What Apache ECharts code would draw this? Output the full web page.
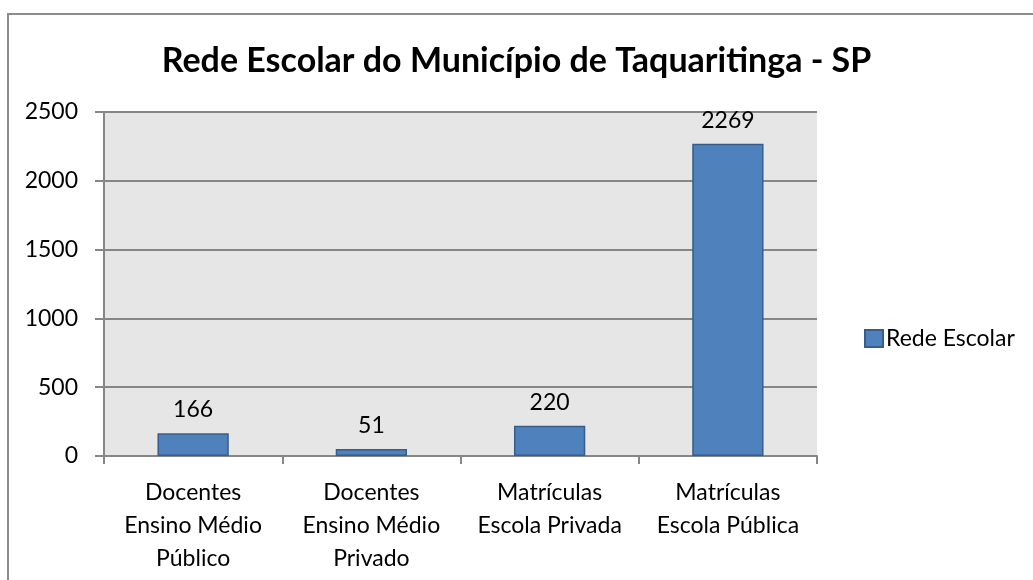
<!DOCTYPE html>
<html>
<head>
<meta charset="utf-8">
<script src="https://cdn.jsdelivr.net/npm/echarts@6/dist/echarts.min.js"></script>
<style>
  html, body { margin: 0; padding: 0; background: #fff; }
  #frame {
    position: absolute; left: 7px; top: 13px;
    width: 1100px; height: 700px;
    border: 2px solid #8c8c8c; box-sizing: border-box;
  }
  #chart { position: absolute; left: 0; top: 0; width: 1033px; height: 580px; }
</style>
</head>
<body>
<div id="frame"></div>
<div id="chart"></div>
<script>
// dados do gráfico
const categorias = [
  'Docentes\nEnsino Médio\nPúblico',
  'Docentes\nEnsino Médio\nPrivado',
  'Matrículas\nEscola Privada',
  'Matrículas\nEscola Pública'
];
const redeEscolar = [166, 51, 220, 2269];
const yTicks = [0, 500, 1000, 1500, 2000, 2500];

const fonte = 'Lato, "Open Sans", sans-serif';
const chart = echarts.init(document.getElementById('chart'));

const option = {
  backgroundColor: 'transparent',
  animation: false,
  title: {
    text: 'Rede Escolar do Município de Taquaritinga - SP',
    left: 'center',
    top: 39,
    textStyle: { fontFamily: fonte, fontSize: 34, fontWeight: 'bold', color: '#000' }
  },
  legend: {
    data: ['Rede Escolar'],
    orient: 'vertical',
    icon: 'rect',
    left: 859,
    top: 322,
    itemWidth: 18,
    itemHeight: 17,
    itemGap: 4,
    textStyle: { fontFamily: fonte, fontSize: 23, color: '#000', padding: [0, 0, 0, -2] }
  },
  grid: {
    left: 104,
    right: 216,
    top: 112,
    bottom: 124,
    show: true,
    backgroundColor: '#e6e6e6',
    borderWidth: 0
  },
  xAxis: {
    type: 'category',
    data: categorias,
    axisLine: { lineStyle: { color: '#868686', width: 2 } },
    axisTick: { show: true, length: 8, lineStyle: { color: '#868686', width: 2 } },
    axisLabel: {
      fontFamily: fonte, fontSize: 23, color: '#000',
      lineHeight: 33, margin: 20, interval: 0
    }
  },
  yAxis: {
    type: 'value',
    min: yTicks[0],
    max: yTicks[yTicks.length - 1],
    interval: 500,
    axisLine: { show: true, lineStyle: { color: '#868686', width: 2 } },
    axisTick: { show: true, length: 9, lineStyle: { color: '#868686', width: 2 } },
    axisLabel: {
      fontFamily: fonte, fontSize: 23, color: '#000', margin: 26,
      formatter: v => String(v)
    },
    splitLine: { lineStyle: { color: '#868686', width: 2 } }
  },
  series: [{
    name: 'Rede Escolar',
    type: 'bar',
    data: redeEscolar,
    barWidth: '40%',
    itemStyle: { color: '#4f81bd', borderColor: '#385d8a', borderWidth: 1.5 },
    label: {
      show: true,
      position: 'top',
      distance: 12,
      fontFamily: fonte, fontSize: 23, color: '#000'
    }
  }]
};

chart.setOption(option);
</script>
</body>
</html>
